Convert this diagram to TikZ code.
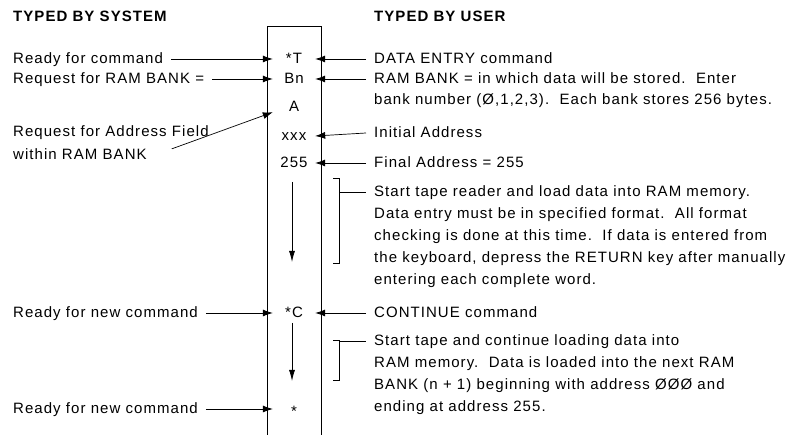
\documentclass[tikz,border=0pt]{standalone}
\usepackage{fontspec}
\setmainfont[LetterSpace=7]{Liberation Sans}
\usetikzlibrary{arrows.meta}

\begin{document}
\begin{tikzpicture}[x=1pt,y=-1pt,
  lbl/.style={anchor=west,inner xsep=8pt,inner ysep=0pt,text height=10pt,text depth=0pt,font=\fontsize{15}{22}\selectfont},
  head/.style={lbl,font=\fontsize{15}{22}\selectfont\bfseries},
  item/.style={minimum width=42pt,inner sep=0pt,text height=10pt,text depth=0pt,font=\fontsize{15}{22}\selectfont},
  arr/.style={-{Latex[length=10pt,width=7pt]},line width=0.7pt},
  down/.style={-{Latex[length=11pt,width=6pt]},line width=0.8pt}]
\useasboundingbox (0,0) rectangle (801,435);
\draw[line width=1pt] (267,435) |- (321,27) -- (321,435);
\node[head] (sys) at (5,17) {TYPED BY SYSTEM};
\node[head] (usr) at (366,17) {TYPED BY USER};
% entries in the column
\node[item] (t) at (294,59) {*T};
\node[item] (bn) at (294,79) {Bn};
\node[item] (a) at (294,107) {A};
\node[item] (xxx) at (294,136) {xxx};
\node[item] (fin) at (294,163) {255};
\node[item] (c) at (294,313) {*C};
\node[item] (s) at (294,409) {\raisebox{-3pt}{*}};
% typed by system
\node[lbl] (rdy) at (5,59) {Ready for command};
\node[lbl] (req) at (5,79) {Request for RAM BANK =};
\node[lbl] (adr) at (5,132) {Request for Address Field};
\node[lbl] (wth) at (5,155) {within RAM BANK};
\node[lbl] (new) at (5,313) {Ready for new command};
\node[lbl] (new2) at (5,409) {Ready for new command};
\draw[arr] (rdy) -- (t);
\draw[arr] (req) -- (bn);
\draw[arr,shorten <=18pt] (wth.east) -- (a.south west);
\draw[arr] (new) -- (c);
\draw[arr] (new2) -- (s);
% typed by user
\node[lbl] (de) at (366,59) {DATA ENTRY command};
\node[lbl] (bank) at (366,79) {RAM BANK = in which data will be stored.\ \ Enter};
\node[lbl] (bank2) at (366,100) {bank number (Ø,1,2,3).\ \ Each bank stores 256 bytes.};
\node[lbl] (ini) at (366,133) {Initial Address};
\node[lbl] (fa) at (366,163) {Final Address = 255};
\node[lbl] (cont) at (366,313) {CONTINUE command};
\draw[arr] (de) -- (t);
\draw[arr] (bank) -- (bn);
\draw[arr] (ini.west) -- (xxx.east);
\draw[arr] (fa) -- (fin);
\draw[arr] (cont) -- (c);
\foreach \txt [count=\i] in {{Start tape reader and load data into RAM memory.},
  {Data entry must be in specified format.\ \ All format},
  {checking is done at this time.\ \ If data is entered from},
  {the keyboard, depress the RETURN key after manually},
  {entering each complete word.}}
  \node[lbl] (p\i) at (366,170+22*\i) {\txt};
\foreach \txt [count=\i] in {{Start tape and continue loading data into},
  {RAM memory.\ \ Data is loaded into the next RAM},
  {BANK (n + 1) beginning with address ØØØ and},
  {ending at address 255.}}
  \node[lbl] (q\i) at (366,319+22*\i) {\txt};
% brackets and runs
\draw[line width=0.7pt] (333,178) -- (339,178) -- (339,263) -- (333,263);
\draw[line width=0.7pt] (339,192) -- (p1.west);
\draw[line width=0.7pt] (333,340) -- (339,340) -- (339,380) -- (333,380);
\draw[line width=0.7pt] (339,341) -- (q1.west);
\draw[down] (292,182) -- (292,262);
\draw[down] (292,323) -- (292,381);
\end{tikzpicture}
\end{document}
